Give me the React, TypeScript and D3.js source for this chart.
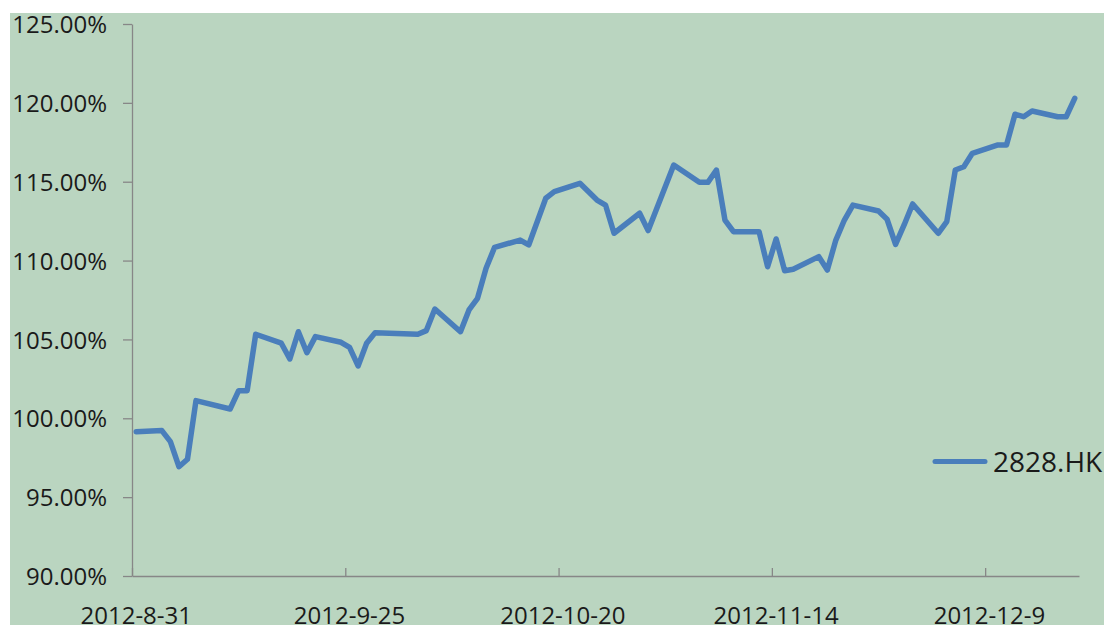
import React, { useEffect, useRef } from 'react'
import * as d3 from 'd3'

// 2828.HK cumulative value
const dates = [
  '2012-08-31', '2012-09-03', '2012-09-04', '2012-09-05', '2012-09-06', '2012-09-07',
  '2012-09-11', '2012-09-12', '2012-09-13', '2012-09-14', '2012-09-17', '2012-09-18',
  '2012-09-19', '2012-09-20', '2012-09-21', '2012-09-24', '2012-09-25', '2012-09-26',
  '2012-09-27', '2012-09-28', '2012-10-03', '2012-10-04', '2012-10-05', '2012-10-08',
  '2012-10-09', '2012-10-10', '2012-10-11', '2012-10-12', '2012-10-15', '2012-10-16',
  '2012-10-18', '2012-10-19', '2012-10-22', '2012-10-24', '2012-10-25', '2012-10-26',
  '2012-10-29', '2012-10-30', '2012-11-02', '2012-11-05', '2012-11-06', '2012-11-07',
  '2012-11-08', '2012-11-09', '2012-11-12', '2012-11-13', '2012-11-14', '2012-11-15',
  '2012-11-16', '2012-11-19', '2012-11-20', '2012-11-21', '2012-11-22', '2012-11-23',
  '2012-11-26', '2012-11-27', '2012-11-28', '2012-11-29', '2012-11-30', '2012-12-03',
  '2012-12-04', '2012-12-05', '2012-12-06', '2012-12-07', '2012-12-10', '2012-12-11',
  '2012-12-12', '2012-12-13', '2012-12-14', '2012-12-17', '2012-12-18', '2012-12-19'
]

const values = [
  99.15, 99.22, 98.52, 96.93, 97.40, 101.12,
  100.59, 101.75, 101.75, 105.33, 104.76, 103.76,
  105.49, 104.16, 105.18, 104.82, 104.50, 103.32,
  104.76, 105.43, 105.33, 105.56, 106.93, 105.49,
  106.87, 107.61, 109.51, 110.84, 111.30, 110.99,
  113.95, 114.37, 114.90, 113.84, 113.52, 111.73,
  113.00, 111.90, 116.06, 114.96, 114.96, 115.74,
  112.57, 111.83, 111.83, 109.61, 111.37, 109.36,
  109.45, 110.25, 109.40, 111.30, 112.57, 113.52,
  113.14, 112.62, 111.03, 112.26, 113.59, 111.73,
  112.47, 115.74, 115.95, 116.80, 117.33, 117.33,
  119.28, 119.12, 119.48, 119.12, 119.12, 120.29
]

const xTickLabels = ['2012-8-31', '2012-9-25', '2012-10-20', '2012-11-14', '2012-12-9']
const yTicks = [90, 95, 100, 105, 110, 115, 120, 125]
const seriesName = '2828.HK'

const W = 1104
const H = 625
const FONT = '"Open Sans", "Noto Sans", sans-serif'

export default function App () {
  const ref = useRef<SVGSVGElement>(null)

  useEffect(() => {
    const svg = d3.select(ref.current)
    svg.selectAll('*').remove()

    const left = 132
    const right = 1079
    const top = 24
    const bottom = 576

    const parse = d3.utcParse('%Y-%m-%d')
    const parseTick = d3.utcParse('%Y-%m-%e')
    const start = parse(dates[0]) as Date
    const end = d3.utcDay.offset(parse(dates[dates.length - 1]) as Date, 1)

    const x = d3.scaleUtc().domain([start, end]).range([left, right])
    const y = d3.scaleLinear().domain([90, 125]).range([bottom, top])
    // points and labels sit in the middle of each day's slot
    const halfDay = (x(d3.utcDay.offset(start, 1)) - x(start)) / 2

    // plot background
    svg.append('rect')
      .attr('x', 10).attr('y', 13)
      .attr('width', W - 10).attr('height', H - 13)
      .attr('fill', '#bad5c0')

    const axisColor = '#878787'

    // y axis
    const yAxis = svg.append('g')
      .attr('transform', 'translate(' + left + ',0)')
      .call(d3.axisLeft(y)
        .tickValues(yTicks)
        .tickSize(9)
        .tickSizeOuter(0)
        .tickPadding(16)
        .tickFormat((d) => (+d).toFixed(2) + '%'))
    yAxis.select('.domain').attr('stroke', axisColor).attr('stroke-width', 1.3)
    yAxis.selectAll('.tick line').attr('stroke', axisColor).attr('stroke-width', 1.3)
    yAxis.selectAll('.tick text')
      .attr('font-family', FONT)
      .attr('font-size', 24)
      .attr('fill', '#1a1a1a')
      .attr('dy', '0.36em')

    // x axis
    const tickDates = xTickLabels.map((t) => parseTick(t) as Date)
    const xAxis = svg.append('g')
      .attr('transform', 'translate(0,' + bottom + ')')
      .call(d3.axisBottom(x)
        .tickValues(tickDates)
        .tickSizeInner(-8)
        .tickSizeOuter(0)
        .tickFormat(() => ''))
    xAxis.select('.domain').attr('stroke', axisColor).attr('stroke-width', 1.3)
    xAxis.selectAll('.tick line').attr('stroke', axisColor).attr('stroke-width', 1.3)

    svg.append('g')
      .selectAll('text')
      .data(tickDates)
      .enter().append('text')
      .attr('x', (d) => x(d) + halfDay)
      .attr('y', 623.5)
      .attr('text-anchor', 'middle')
      .attr('font-family', FONT)
      .attr('font-size', 24)
      .attr('fill', '#1a1a1a')
      .text((d, i) => xTickLabels[i])

    // series line
    const points = dates.map((d, i) => ({ date: parse(d) as Date, value: values[i] }))
    const line = d3.line<{ date: Date, value: number }>()
      .x((d) => x(d.date) + halfDay)
      .y((d) => y(d.value))

    svg.append('path')
      .datum(points)
      .attr('d', line)
      .attr('fill', 'none')
      .attr('stroke', '#4a7ebb')
      .attr('stroke-width', 5.5)
      .attr('stroke-linejoin', 'round')
      .attr('stroke-linecap', 'round')

    // legend
    svg.append('line')
      .attr('x1', 935).attr('x2', 985)
      .attr('y1', 461.5).attr('y2', 461.5)
      .attr('stroke', '#4a7ebb')
      .attr('stroke-width', 5)
      .attr('stroke-linecap', 'round')
    svg.append('text')
      .attr('x', 993).attr('y', 471.5)
      .attr('font-family', FONT)
      .attr('font-size', 28)
      .attr('fill', '#1a1a1a')
      .text(seriesName)
  }, [])

  return (
    <div style={{ position: 'absolute', left: 0, top: 0, width: W, height: H, overflow: 'hidden', background: '#fff' }}>
      <svg ref={ref} width={W} height={H} />
    </div>
  )
}
